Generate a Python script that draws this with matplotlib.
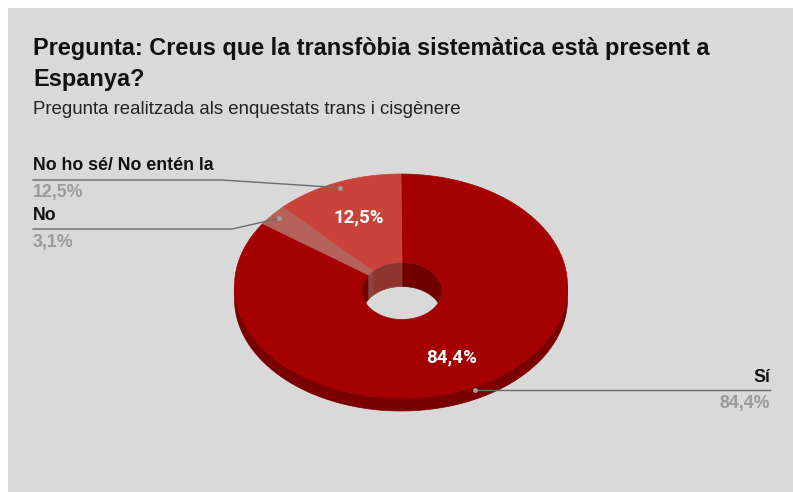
import numpy as np
import matplotlib.pyplot as plt
from matplotlib.patches import Polygon, Rectangle, Ellipse

# data
title = "Pregunta: Creus que la transfòbia sistemàtica està present a\nEspanya?"
subtitle = "Pregunta realitzada als enquestats trans i cisgènere"
categories = ["Sí", "No", "No ho sé/ No entén la"]
values = [84.4, 3.1, 12.5]

# styles
top_colors = ["#a40000", "#b5625b", "#c9433a"]
side_colors = ["#7a0000", "#8c4a45", "#962c26"]
wall_colors = ["#700000", "#8a4540", "#8f3530"]
bg = "#d9d9d9"

# 3d donut geometry (pixels)
cx, cy, rx, ry = 401, 286, 166.5, 112
depth = 13
hcx, hcy, hrx, hry = 402, 291, 40, 28.5
hole_depth = 24


def outer(theta, r=1.0, dy=0.0):
    t = np.radians(theta)
    return cx + rx * r * np.sin(t), cy - ry * r * np.cos(t) + dy


def inner(theta, dy=0.0):
    t = np.radians(theta)
    return hcx + hrx * np.sin(t), hcy - hry * np.cos(t) + dy


def fmt(v):
    return f"{v:.1f}".replace(".", ",") + "%"


fig = plt.figure(figsize=(7.93, 4.92), dpi=100)
ax = fig.add_axes([0, 0, 1, 1])
ax.set_xlim(0, 793)
ax.set_ylim(492, 0)
ax.axis("off")
ax.add_patch(Rectangle((8, 8), 800, 500, facecolor=bg, edgecolor="none"))

fracs = np.array(values) / sum(values) * 360
ends = np.cumsum(fracs)
starts = ends - fracs

# outer side (front half only)
for a, b, c in zip(starts, ends, side_colors):
    lo, hi = max(a, 90), min(b, 270)
    if hi <= lo:
        continue
    th = np.linspace(lo, hi, 120)
    x1, y1 = outer(th)
    x2, y2 = outer(th[::-1], dy=depth)
    ax.add_patch(Polygon(np.column_stack([np.r_[x1, x2], np.r_[y1, y2]]),
                         facecolor=c, edgecolor=c, lw=0.5))

# top faces
for a, b, c in zip(starts, ends, top_colors):
    th = np.linspace(a, b, 200)
    x1, y1 = outer(th)
    x2, y2 = inner(th[::-1])
    ax.add_patch(Polygon(np.column_stack([np.r_[x1, x2], np.r_[y1, y2]]),
                         facecolor=c, edgecolor=c, lw=0.5))

# inner wall seen through the hole (back half)
hole = Ellipse((hcx, hcy), 2 * hrx, 2 * hry, facecolor="none", edgecolor="none")
ax.add_patch(hole)
for a, b, c in zip(starts, ends, wall_colors):
    for lo, hi in [(max(a, 0), min(b, 90)), (max(a, 270), min(b, 360))]:
        if hi <= lo:
            continue
        th = np.linspace(lo, hi, 80)
        x1, y1 = inner(th)
        x2, y2 = inner(th[::-1], dy=hole_depth)
        p = Polygon(np.column_stack([np.r_[x1, x2], np.r_[y1, y2]]),
                    facecolor=c, edgecolor=c, lw=0.5)
        ax.add_patch(p)
        p.set_clip_path(hole)

# value labels on slices
for i, f in [(0, 0.68), (2, 0.66)]:
    mid = (starts[i] + ends[i]) / 2
    x, y = outer(mid, f)
    ax.text(x - (3 if i == 0 else 0), y + (4 if i == 0 else 0), fmt(values[i]),
            color="white", fontsize=13.5, fontweight="bold",
            family="Roboto", ha="center", va="center")

# leader lines + legend labels
line_c = "#6b6b6b"
lab_font = dict(fontsize=12.8, fontweight="bold", family="Liberation Sans", va="center")
anchors = []
for i in range(3):
    mid = (starts[i] + ends[i]) / 2
    dy = depth * 0.8 if np.cos(np.radians(mid)) < 0 else 0
    anchors.append(outer(mid, 0.95, dy))

# Sí (right side)
x0, y0 = anchors[0]
ax.plot([x0, 770], [y0, y0], color=line_c, lw=1)
ax.plot(x0, y0, "o", ms=3.5, color="#a0a0a0", mec="none")
ax.text(770, y0 - 13, categories[0], ha="right", color="#111111", **lab_font)
ax.text(770, y0 + 13, fmt(values[0]), ha="right", color="#9a9a9a", **lab_font)

# left side labels
for i, ly, knee in [(2, 180, 222), (1, 229, 232)]:
    x0, y0 = anchors[i]
    ax.plot([33, knee, x0], [ly, ly, y0], color=line_c, lw=1)
    ax.plot(x0, y0, "o", ms=3.5, color="#a0a0a0", mec="none")
    ax.text(33, ly - 14, categories[i], ha="left", color="#111111", **lab_font)
    ax.text(33, ly + 13, fmt(values[i]), ha="left", color="#9a9a9a", **lab_font)

# titles
ax.text(33, 64, title, fontsize=16.9, fontweight="bold", family="Liberation Sans",
        ha="left", va="center", color="#111111", linespacing=1.42)
ax.text(33, 110, subtitle, fontsize=13.4, family="Liberation Sans",
        ha="left", va="center", color="#222222")

fig.savefig("out.png", dpi=100, facecolor="white")
